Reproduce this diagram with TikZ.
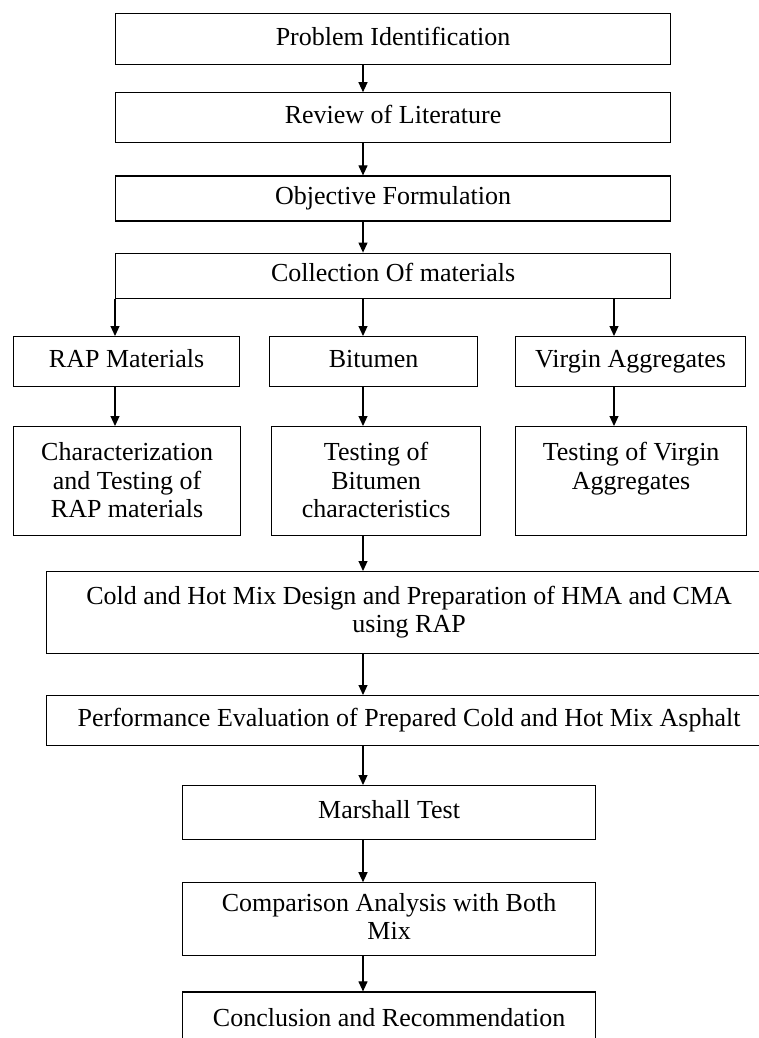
\documentclass[tikz,border=0pt]{standalone}
\usepackage{fontspec}
\setmainfont{Liberation Serif}
\usetikzlibrary{arrows.meta, positioning}

\begin{document}
\begin{tikzpicture}[x=1pt, y=-1pt,
    stepbox/.style={draw, line width=1.2pt, inner sep=0pt, anchor=north west, align=center,
        text height=18pt, text depth=6pt, font=\fontsize{26}{28.5}\selectfont},
    twoline/.style={stepbox, text height=46.5pt},
    tallbox/.style={stepbox, minimum height=109pt, text height=91pt, text depth=18pt},
    flow/.style={-{Triangle[length=10pt, width=9pt]}, line width=1.1pt}
]
\useasboundingbox (0,0) rectangle (758,1038);

% Main column - top
\node[stepbox, minimum width=555pt, minimum height=51pt] (prob) at (115,13) {Problem Identification};
\node[stepbox, minimum width=555pt, minimum height=50pt, below=27pt of prob] (rev) {Review of Literature};
\node[stepbox, minimum width=555pt, minimum height=45pt, below=32pt of rev] (obj) {Objective Formulation};
\node[stepbox, minimum width=555pt, minimum height=45pt, below=31pt of obj] (coll) {Collection Of materials};

% Three material branches
\node[stepbox, minimum width=226pt, minimum height=50pt] (rap0) at (13,336) {RAP Materials};
\node[stepbox, minimum width=208pt, minimum height=50pt] (bit0) at (269,336) {Bitumen};
\node[stepbox, minimum width=230pt, minimum height=50pt] (agg0) at (515,336) {Virgin Aggregates};

\node[tallbox, minimum width=227pt] (rap1) at (13,426) {Characterization\\and Testing of\\RAP materials};
\node[tallbox, minimum width=209pt] (bit1) at (271,426) {Testing of\\Bitumen\\characteristics};
\node[tallbox, minimum width=231pt, text height=62.5pt, text depth=46.5pt] (agg1) at (515,426) {Testing of Virgin\\Aggregates};

% Mix design and evaluation
\node[twoline, minimum width=725pt, minimum height=82pt] (mix) at (46,571)
    {Cold and Hot Mix Design and Preparation of HMA and CMA\\using RAP};
\node[stepbox, minimum width=725pt, minimum height=50pt] (perf) at (46,695)
    {Performance Evaluation of Prepared Cold and Hot Mix Asphalt};

% Main column - bottom
\node[stepbox, minimum width=413pt, minimum height=54pt] (marsh) at (182,785) {Marshall Test};
\node[twoline, minimum width=413pt, minimum height=73pt, below=42pt of marsh] (comp) {Comparison Analysis with Both\\Mix};
\node[stepbox, minimum width=413pt, minimum height=56pt, below=35pt of comp] (concl) {Conclusion and Recommendation};

% Arrow columns
\coordinate (spine) at (363,0);
\coordinate (aggx) at (614,0);

\draw[flow] (prob.south -| spine) -- (rev.north -| spine);
\draw[flow] (rev.south -| spine) -- (obj.north -| spine);
\draw[flow] (obj.south -| spine) -- (coll.north -| spine);

\draw[flow] (coll.south west) -- (coll.south west |- rap0.north);
\draw[flow] (coll.south -| spine) -- (bit0.north -| spine);
\draw[flow] (coll.south -| aggx) -- (agg0.north -| aggx);

\draw[flow] (rap0.south -| coll.west) -- (rap1.north -| coll.west);
\draw[flow] (bit0.south -| spine) -- (bit1.north -| spine);
\draw[flow] (agg0.south -| aggx) -- (agg1.north -| aggx);

\draw[flow] (bit1.south -| spine) -- (mix.north -| spine);
\draw[flow] (mix.south -| spine) -- (perf.north -| spine);
\draw[flow] (perf.south -| spine) -- (marsh.north -| spine);
\draw[flow] (marsh.south -| spine) -- (comp.north -| spine);
\draw[flow] (comp.south -| spine) -- (concl.north -| spine);
\end{tikzpicture}
\end{document}
